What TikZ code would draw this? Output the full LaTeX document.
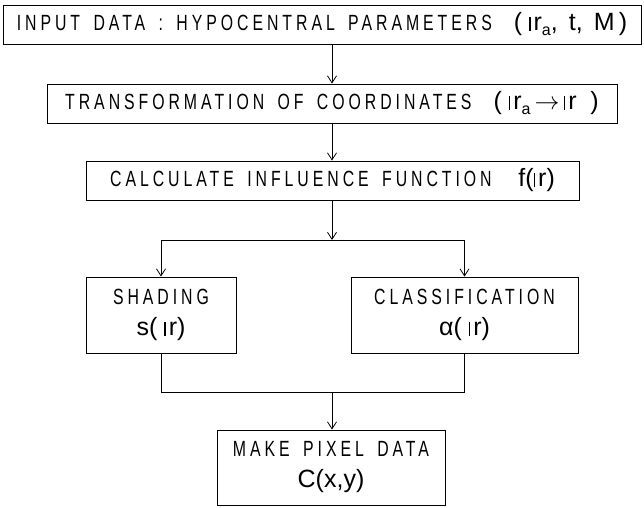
\documentclass[tikz,border=0pt]{standalone}
\usepackage{fontspec}
\usetikzlibrary{arrows.meta}

\newfontfamily\capsfont[FakeStretch=0.72,LetterSpace=18,WordSpace=1.6]{Liberation Sans}
\newfontfamily\symfont{Liberation Sans}
% double-struck r and small subscript
\newcommand{\vecr}{{\rule{0.06em}{0.55em}\kern0.12em r}}
\newcommand{\subs}[1]{\raisebox{-0.2em}{\fontsize{16}{16}\selectfont #1}}

\begin{document}
\begin{tikzpicture}[x=1pt, y=-1pt,
    box/.style = {draw, line width=0.9pt, inner sep=0pt, align=center,
                  font=\fontsize{22}{31}\selectfont\capsfont},
    flow/.style = {line width=0.8pt, -{Straight Barb[length=7pt,width=9pt]}}]

    \useasboundingbox (0,0) rectangle (644,507);

    \node [box, minimum width=638pt, minimum height=39pt] (input) at (322,24.5)
      {INPUT DATA : HYPOCENTRAL PARAMETERS\quad{\fontsize{25}{31}\selectfont\symfont( \vecr\subs{a},\ \,t,\ \,M\,)}};
    \node [box, minimum width=570pt, minimum height=39pt] (trans) at (332,103.5)
      {TRANSFORMATION OF COORDINATES\quad{\fontsize{25}{31}\selectfont\symfont(\ \vecr\subs{a}\,$\rightarrow$\,\vecr\ \ )}};
    \node [box, minimum width=493pt, minimum height=39pt] (calc) at (332.5,180.5)
      {CALCULATE INFLUENCE FUNCTION\ \ {\fontsize{25}{31}\selectfont\symfont f(\vecr)}};
    \node [box, minimum width=150pt, minimum height=76pt] (shade) at (161,315)
      {SHADING\\{\fontsize{25}{31}\selectfont\symfont s( \vecr)}};
    \node [box, minimum width=227pt, minimum height=76pt] (class) at (464.5,315)
      {CLASSIFICATION\\{\fontsize{25}{31}\selectfont\symfont α( \vecr)}};
    \node [box, minimum width=228pt, minimum height=75pt] (pixel) at (331,467.5)
      {MAKE PIXEL DATA\\{\fontsize{25}{31}\selectfont\symfont C(x,y)}};

    \coordinate (axis) at (332,0);
    \coordinate (split) at (332,240);
    \coordinate (join) at (332,392);

    \draw [flow] (input.south -| axis) -- (trans.north -| axis);
    \draw [flow] (trans.south -| axis) -- (calc.north -| axis);
    \draw [flow] (calc.south -| axis) -- (split);
    \draw [line width=0.8pt] (shade.north |- split) -- (class.north |- split);
    \draw [flow] (shade.north |- split) -- (shade.north);
    \draw [flow] (class.north |- split) -- (class.north);
    \draw [line width=0.8pt] (shade.south) -- (shade.south |- join) -- (class.south |- join) -- (class.south);
    \draw [flow] (join) -- (pixel.north -| join);
\end{tikzpicture}
\end{document}
